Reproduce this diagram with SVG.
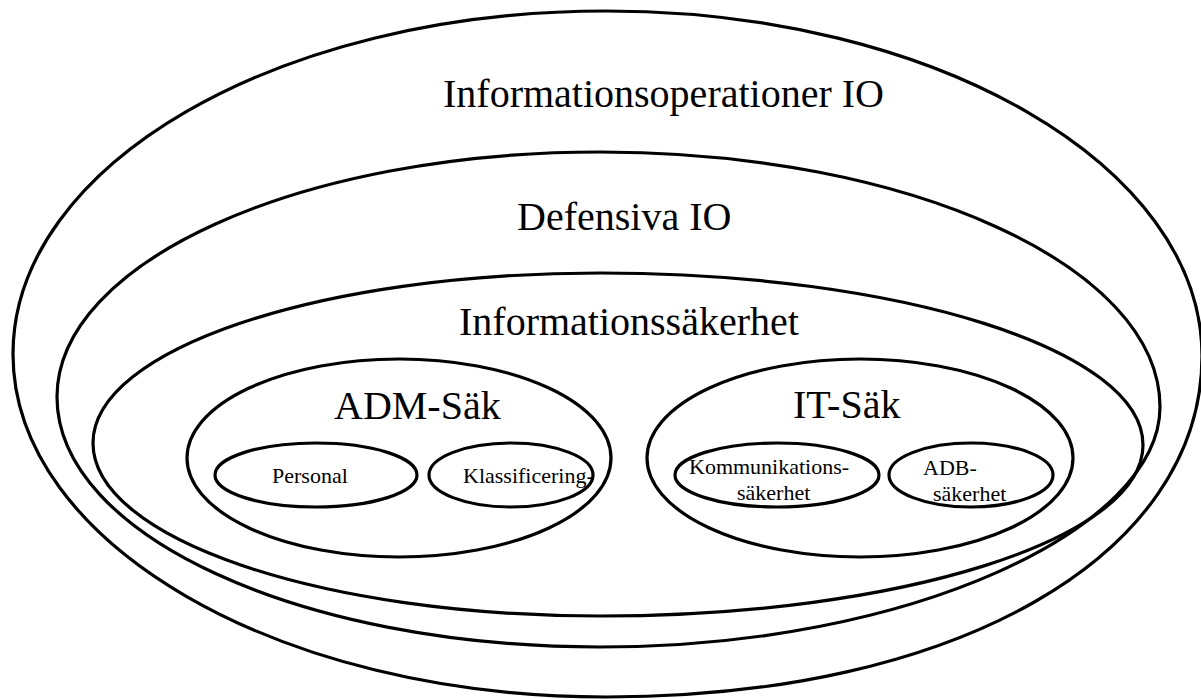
<svg xmlns="http://www.w3.org/2000/svg" width="1201" height="699" viewBox="0 0 1201 699">
<style>
.shape{fill:none;stroke:#000;stroke-width:3.2}
.big{font-family:"Liberation Serif","Times New Roman",serif;font-size:40px;fill:#000}
.small{font-family:"Liberation Serif","Times New Roman",serif;font-size:22px;fill:#000}
</style>
<rect width="1201" height="699" fill="#fff"/>
<g id="informationsoperationer">
<path class="shape" d="M13,354 C13,164.6 278.5,11 606,11 C935,11 1202,165.5 1202,356 C1202,556 956,697 606,697 C278.5,697 13,543.4 13,354 Z"/>
<text class="big" x="443" y="107">Informationsoperationer IO</text>
</g>
<g id="defensiva-io">
<path class="shape" d="M57,397 C57,261.7 300.1,152 600,152 C909.3,152 1160,266.2 1160,407 C1160,528 912,647 600,647 C300.1,647 57,535.1 57,397 Z"/>
<text class="big" x="517" y="230">Defensiva IO</text>
</g>
<g id="informationssakerhet">
<path class="shape" d="M93,443 C93,349.1 320,273 600,273 C899.9,273 1143,350 1143,445 C1143,539.4 899.9,616 600,616 C320,616 93,538.5 93,443 Z"/>
<text class="big" x="459" y="335">Informationssäkerhet</text>
</g>
<g id="adm-sak">
<ellipse class="shape" cx="399" cy="458" rx="212" ry="99"/>
<text class="big" x="334" y="419">ADM-Säk</text>
</g>
<g id="it-sak">
<ellipse class="shape" cx="860" cy="458" rx="213" ry="99"/>
<text class="big" x="793" y="418">IT-Säk</text>
</g>
<g id="personal">
<ellipse class="shape" cx="316" cy="475" rx="101" ry="32"/>
<text class="small" x="272" y="483">Personal</text>
</g>
<g id="klassificering">
<ellipse class="shape" cx="511" cy="475" rx="82" ry="32"/>
<text class="small" x="463" y="483">Klassificering-</text>
</g>
<g id="kommunikationssakerhet">
<ellipse class="shape" cx="777" cy="475" rx="102" ry="32"/>
<text class="small" x="689" y="474">Kommunikations-</text>
<text class="small" x="737" y="500">säkerhet</text>
</g>
<g id="adb-sakerhet">
<ellipse class="shape" cx="971" cy="475" rx="82" ry="32"/>
<text class="small" x="923" y="475">ADB-</text>
<text class="small" x="933" y="501">säkerhet</text>
</g>
<g id="connectors"/>
</svg>
